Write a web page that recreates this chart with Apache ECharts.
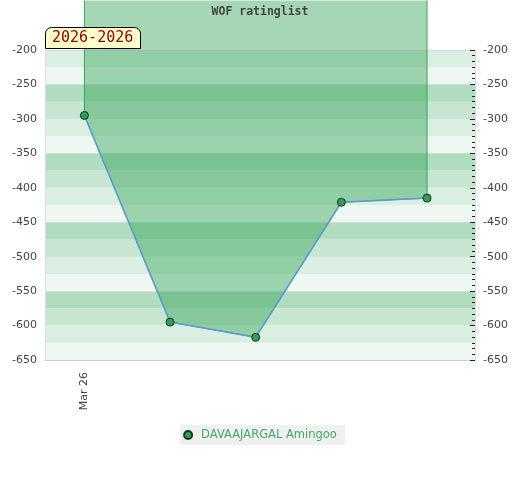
<!DOCTYPE html>
<html>
<head>
<meta charset="utf-8">
<title>WOF ratinglist</title>
<style>
html, body { margin: 0; padding: 0; background: #fff; }
#chart { width: 520px; height: 480px; }
</style>
<script src="https://cdn.jsdelivr.net/npm/echarts@6/dist/echarts.min.js"></script>
</head>
<body>
<div id="chart"></div>
<script>
// data
const chartTitle = 'WOF ratinglist';
const period = '2026-2026';
const player = 'DAVAAJARGAL Amingoo';
const xPos = [0, 1, 2, 3, 4];
const ratings = [-295, -595, -617, -421, -415];
const dateLabels = ['Mar 26'];
const dateLabelPos = [0];
const yMin = -650, yMax = -200, yStep = 50;
const fillTop = -128; // value the shaded area reaches up to (above the plot)

const points = xPos.map((x, i) => [x, ratings[i]]);
const fillData = [[xPos[0], fillTop]].concat(points, [[xPos[xPos.length - 1], fillTop]]);

const chart = echarts.init(document.getElementById('chart'));

const hiddenAxis = {
  type: 'value', min: yMin, max: yMax,
  axisLine: { show: false, onZero: false }, axisTick: { show: false }, axisLabel: { show: false }
};

chart.setOption({
  animation: false,
  textStyle: { fontFamily: 'DejaVu Sans' },
  title: [
    {
      text: chartTitle, left: 'center', top: 1,
      textStyle: { fontFamily: 'DejaVu Sans Mono', fontWeight: 'bold', fontSize: 11.5, color: '#444' }
    },
    {
      text: period, left: 45, top: 27,
      padding: [4, 7, 3, 7],
      backgroundColor: '#ffffcc', borderColor: '#000', borderWidth: 1, borderRadius: [6, 6, 0, 0],
      textStyle: { fontFamily: 'DejaVu Sans Mono', fontWeight: 'normal', fontSize: 15, color: '#8b0000' }
    }
  ],
  legend: {
    data: [player], left: 'center', top: 425,
    icon: 'circle', itemWidth: 16, itemHeight: 8,
    backgroundColor: '#f0f0f0', padding: [4, 8, 4, 3],
    textStyle: { color: '#45a865', fontSize: 11.5 }
  },
  grid: { left: 45, right: 45, top: 50, bottom: 120 },
  xAxis: {
    type: 'value', min: -0.46, max: 4.56,
    splitLine: { show: false },
    axisTick: { show: false },
    axisLine: { onZero: false, lineStyle: { color: '#ccc' } },
    axisLabel: {
      customValues: dateLabelPos,
      formatter: v => { const k = dateLabelPos.indexOf(v); return k >= 0 ? dateLabels[k] : ''; },
      rotate: 90, margin: 12, color: '#444', fontSize: 11
    }
  },
  yAxis: [
    {
      type: 'value', position: 'left', min: yMin, max: yMax, interval: yStep,
      axisLine: { show: true, onZero: false, lineStyle: { color: '#ddd' } },
      axisTick: { show: false },
      axisLabel: { color: '#444', fontSize: 11 },
      splitLine: { show: false }
    },
    {
      type: 'value', position: 'right', min: yMin, max: yMax, interval: yStep,
      axisLine: { show: true, onZero: false, lineStyle: { color: '#ddd' } },
      axisTick: { show: true, inside: true, length: 5, lineStyle: { color: '#222' } },
      minorTick: { show: true, splitNumber: 6, length: 3, lineStyle: { color: '#222' } },
      axisLabel: { color: '#444', fontSize: 11 },
      splitLine: { show: false }
    },
    Object.assign({}, hiddenAxis, {
      interval: yStep / 2,
      splitLine: { show: false },
      splitArea: { show: true, areaStyle: { color: ['#eef7f1', '#dbeee2', '#c6e6d2', '#b0dcc0'] } }
    }),
    Object.assign({}, hiddenAxis, {
      interval: yStep * 2,
      splitLine: { show: true, lineStyle: { color: '#dadada', width: 1 } }
    })
  ],
  series: [
    {
      name: 'fill', type: 'line', yAxisIndex: 0,
      data: fillData, symbol: 'none', silent: true, clip: false, z: 2,
      lineStyle: { color: '#3aa55a', width: 1 },
      areaStyle: { color: 'rgba(55,164,91,0.45)', opacity: 1, origin: fillTop }
    },
    {
      name: player, type: 'line', yAxisIndex: 0,
      data: points, symbol: 'circle', symbolSize: 8, z: 3,
      itemStyle: { color: '#2f9e57', borderColor: '#12361f', borderWidth: 1 },
      lineStyle: { color: '#5b9bd5', width: 1.5 }
    }
  ]
});
</script>
</body>
</html>
